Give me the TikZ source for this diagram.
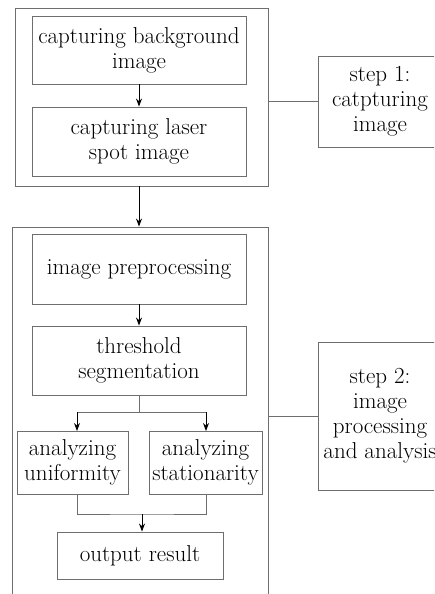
\documentclass[tikz,border=0pt]{standalone}
\usetikzlibrary{arrows.meta}
\begin{document}
\begin{tikzpicture}[x=1pt,y=-1pt,
  box/.style={draw=framegray, line width=0.9pt, rectangle, inner sep=0pt,
    align=center, font=\fontsize{23}{25}\selectfont},
  frame/.style={draw=framegray, line width=0.9pt, rectangle, inner sep=0pt},
  link/.style={draw=framegray, line width=0.9pt},
  flow/.style={draw=black, line width=0.9pt, -{Stealth[length=8pt,width=6pt]}},
  branchline/.style={draw=framegray, line width=0.9pt}]
\definecolor{framegray}{RGB}{110,110,110}
\useasboundingbox (0,0) rectangle (434,594);
\clip (0,0) rectangle (434,594);

% step 1 group
\node[frame, minimum width=253, minimum height=178] (g1) at (141.5,97) {};
\node[box, minimum width=214, minimum height=68] (a) at (139,50)
  {capturing background\\image};
\node[box, minimum width=214, minimum height=69] (b) at (139,141.5)
  {capturing laser\\spot image};
\node[box, minimum width=124, minimum height=91] (s1) at (380,101.5)
  {step 1:\\catpturing\\image};

% step 2 group
\node[frame, minimum width=256, minimum height=393] (g2) at (140,423.5) {};
\node[box, minimum width=214, minimum height=70] (c) at (139,269)
  {image preprocessing};
\node[box, minimum width=214, minimum height=69] (d) at (139,360.5)
  {threshold\\segmentation};
\node[box, minimum width=111, minimum height=63] (e) at (72.5,462.5)
  {analyzing\\uniformity};
\node[box, minimum width=113, minimum height=63] (f) at (205.5,462.5)
  {analyzing\\stationarity};
\node[box, minimum width=166, minimum height=47] (g) at (140,555.5)
  {output result};
\node[box, minimum width=124, minimum height=148] (s2) at (380,416)
  {step 2:\\image\\processing\\and analysis};

% connectors
\draw[flow] (a.south) -- (b.north);
\draw[flow] (g1.south -| a.south) -- (g2.north -| a.south);
\draw[link] (s1.west -| g1.east) -- (s1.west);
\draw[link] (s2.west -| g2.east) -- (s2.west);
\draw[flow] (c.south) -- (d.north);

% split into the two analyses
\coordinate (split) at (139,412);
\coordinate (ein) at (77,431);
\coordinate (fin) at (206,431);
\draw[branchline] (d.south) -- (split);
\draw[branchline] (split -| ein) -- (split -| fin);
\draw[flow] (split -| ein) -- (ein);
\draw[flow] (split -| fin) -- (fin);

% merge into the result
\coordinate (eout) at (77,494);
\coordinate (fout) at (206,494);
\coordinate (merge) at (142,514);
\draw[branchline] (eout) |- (merge) -| (fout);
\draw[flow] (merge) -- (merge |- g.north);
\end{tikzpicture}
\end{document}
